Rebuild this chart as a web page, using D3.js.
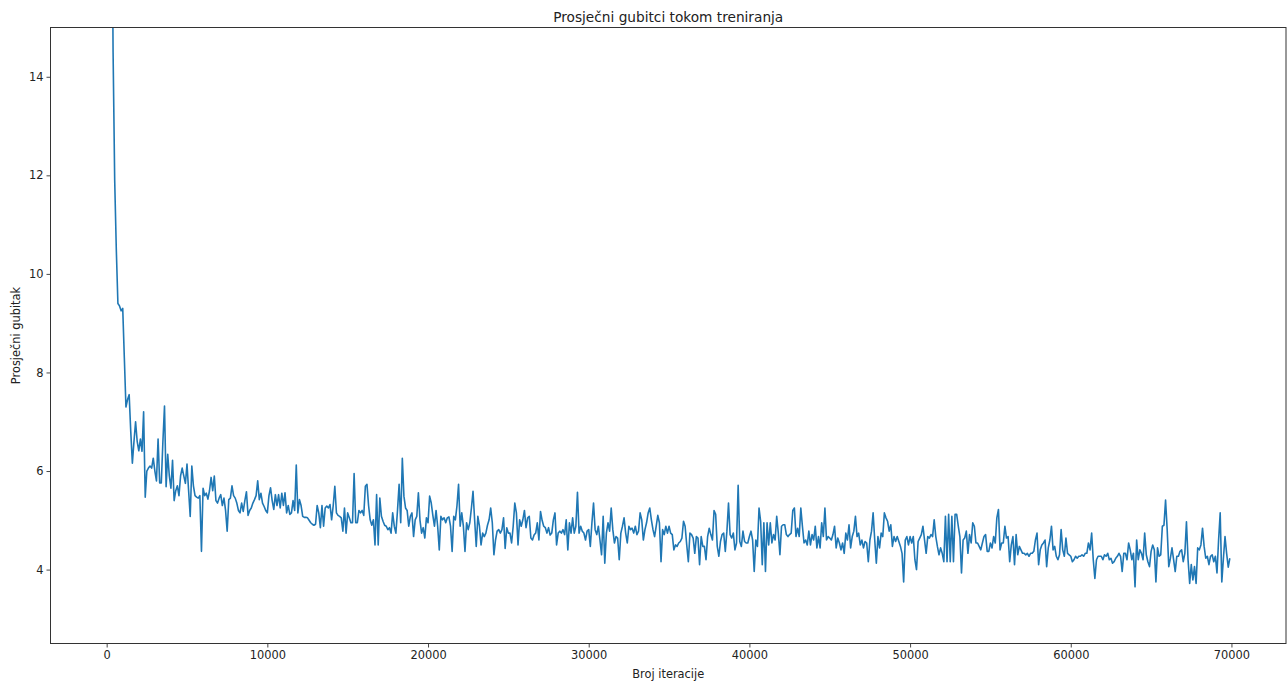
<!DOCTYPE html>
<html>
<head>
<meta charset="utf-8">
<script src="https://cdn.jsdelivr.net/npm/d3@7"></script>
<style>
    body { margin: 0; background: #fff; }
    text { font-family: "DejaVu Sans", sans-serif; fill: #222; }
</style>
</head>
<body>
<div id="chart"></div>
<script>
// Prosječni gubitak, jedna vrijednost svakih 100 iteracija (0 .. 69900)
const step = 100;
const losses = [
    80, 40, 26, 19, 14.5, 11.9, 10.5, 9.4, 9.35, 9.25,
    9.3, 8.3, 7.3, 7.45, 7.55, 6.8, 6.16, 6.6, 7.0, 6.6,
    6.41, 6.65, 6.4, 7.2, 5.47, 6.0, 6.06, 6.1, 6.06, 6.26,
    6.0, 5.8, 6.65, 5.76, 5.76, 6.6, 7.32, 5.68, 6.34, 5.9,
    5.65, 6.22, 5.4, 5.6, 5.7, 5.5, 5.9, 6.06, 5.9, 5.75,
    6.14, 5.6, 5.08, 6.1, 5.7, 5.5, 5.47, 5.45, 5.5, 4.37,
    5.65, 5.5, 5.55, 5.43, 5.6, 5.87, 5.6, 5.9, 5.4, 5.35,
    5.45, 5.52, 5.3, 5.45, 5.2, 4.78, 5.42, 5.45, 5.7, 5.5,
    5.45, 5.35, 5.2, 5.15, 5.35, 5.18, 5.4, 5.58, 5.1, 5.2,
    5.25, 5.35, 5.42, 5.5, 5.8, 5.42, 5.55, 5.35, 5.28, 5.2,
    5.15, 5.5, 5.66, 5.4, 5.22, 5.52, 5.3, 5.52, 5.25, 5.55,
    5.3, 5.56, 5.15, 5.3, 5.12, 5.15, 5.4, 5.2, 6.12, 5.15,
    5.42, 5.3, 5.08, 5.06, 5.06, 5.05, 5.0, 4.95, 4.92, 4.9,
    4.92, 5.3, 5.15, 4.85, 5.3, 4.88, 5.25, 5.29, 5.25, 5.32,
    5.01, 5.3, 5.69, 5.15, 5.1, 5.08, 5.05, 4.78, 5.25, 4.74,
    5.15, 5.05, 4.95, 4.95, 5.95, 4.95, 4.95, 5.2, 5.15, 5.2,
    5.1, 5.69, 5.73, 5.3, 5.01, 4.9, 5.01, 4.5, 5.52, 4.5,
    5.45, 5.08, 4.98, 4.9, 4.88, 4.81, 4.85, 4.74, 5.15, 4.88,
    4.74, 5.2, 5.73, 4.95, 6.26, 5.49, 5.25, 5.2, 4.88, 5.08,
    5.15, 4.67, 5.01, 5.08, 5.56, 5.0, 4.74, 4.85, 4.64, 5.05,
    4.95, 5.49, 5.35, 5.1, 4.88, 5.2, 4.88, 4.4, 5.08, 5.01,
    5.05, 4.95, 5.05, 5.07, 4.88, 4.37, 5.08, 5.01, 5.29, 5.73,
    4.88, 5.15, 4.88, 4.37, 4.95, 4.81, 4.95, 5.25, 5.59, 5.01,
    4.47, 5.08, 4.88, 4.5, 4.74, 4.67, 4.74, 4.9, 5.01, 5.25,
    4.95, 4.3, 4.6, 4.78, 4.81, 4.74, 4.81, 5.05, 4.43, 4.85,
    4.74, 4.74, 4.54, 4.88, 5.35, 5.15, 4.5, 5.01, 4.88, 5.01,
    5.2, 4.85, 5.05, 5.08, 4.64, 4.6, 4.7, 4.74, 4.95, 4.6,
    5.18, 5.0, 4.88, 4.85, 4.74, 4.85, 4.7, 4.74, 5.01, 5.15,
    4.5, 4.74, 4.78, 4.74, 4.81, 4.71, 5.01, 4.4, 4.95, 4.74,
    5.05, 4.74, 4.88, 5.57, 4.74, 4.88, 4.78, 4.74, 4.6, 4.78,
    4.81, 4.47, 4.95, 5.35, 4.81, 4.71, 4.88, 4.6, 4.3, 5.08,
    4.13, 4.74, 4.95, 4.78, 5.25, 4.81, 4.54, 4.67, 4.64, 4.2,
    4.74, 4.88, 5.05, 4.74, 4.54, 4.88, 4.81, 4.84, 4.74, 4.88,
    4.71, 4.78, 5.15, 5.01, 4.6, 4.81, 4.95, 5.15, 5.25, 5.01,
    4.81, 4.67, 4.88, 5.1, 4.95, 4.16, 4.81, 4.71, 4.88, 4.74,
    4.88, 4.74, 4.71, 4.4, 4.5, 4.47, 4.54, 4.57, 4.64, 4.98,
    4.88, 4.5, 4.16, 4.74, 4.71, 4.64, 4.33, 4.67, 4.64, 4.1,
    4.67, 4.47, 4.47, 4.2, 4.67, 4.84, 4.71, 4.6, 5.2, 5.12,
    4.47, 4.27, 4.57, 4.71, 4.74, 4.37, 4.78, 5.35, 4.71, 4.64,
    4.74, 4.4, 4.54, 5.71, 4.57, 4.47, 4.78, 4.57, 4.54, 4.54,
    4.67, 4.78, 4.6, 3.96, 4.6, 4.47, 5.25, 4.98, 4.1, 4.95,
    3.96, 4.95, 4.5, 4.95, 4.54, 4.71, 4.6, 5.08, 4.74, 4.3,
    4.88, 4.91, 4.91, 4.71, 4.67, 4.71, 4.74, 5.2, 5.25, 4.67,
    4.84, 4.67, 5.25, 4.88, 4.54, 4.6, 4.5, 4.78, 4.5, 4.71,
    4.6, 4.88, 4.44, 4.67, 4.44, 4.95, 4.67, 5.25, 4.6, 4.67,
    4.64, 4.6, 4.71, 4.88, 4.44, 4.64, 4.54, 4.4, 4.54, 4.33,
    4.74, 4.6, 4.91, 4.44, 4.67, 4.78, 5.08, 4.67, 4.74, 4.5,
    4.6, 4.44, 4.57, 4.54, 4.16, 4.6, 4.78, 5.15, 4.6, 4.13,
    4.67, 4.44, 4.74, 4.67, 5.15, 5.05, 4.98, 4.78, 4.91, 4.47,
    4.67, 4.57, 4.67, 4.57, 4.47, 4.33, 3.75, 4.6, 4.67, 4.5,
    4.67, 4.54, 4.67, 4.2, 4.0, 4.57, 4.64, 4.71, 4.88, 4.6,
    4.33, 4.67, 4.64, 4.71, 4.67, 5.01, 4.67, 4.47, 4.3, 4.44,
    4.33, 4.16, 5.08, 4.16, 5.12, 4.16, 5.08, 4.16, 5.12, 5.12,
    4.88, 4.67, 3.93, 4.6, 4.64, 4.78, 4.33, 4.71, 4.54, 4.95,
    4.88, 4.54, 4.54, 4.47, 4.4, 4.54, 4.67, 4.71, 4.37, 4.37,
    4.54, 4.44, 4.67, 4.54, 5.05, 5.22, 4.4, 4.54, 4.54, 4.88,
    4.64, 4.67, 4.16, 4.5, 4.67, 4.1, 4.71, 4.3, 4.47, 4.4,
    4.33, 4.33, 4.3, 4.33, 4.27, 4.33, 4.33, 4.37, 4.6, 4.74,
    4.1, 4.4, 4.5, 4.54, 4.6, 4.06, 4.44, 4.6, 4.88, 4.4,
    4.47, 4.27, 4.2, 4.3, 4.81, 4.4, 4.27, 4.64, 4.33, 4.3,
    4.27, 4.16, 4.2, 4.27, 4.23, 4.27, 4.27, 4.3, 4.27, 4.33,
    4.33, 4.54, 4.4, 4.74, 4.2, 3.82, 4.2, 4.27, 4.27, 4.27,
    4.2, 4.3, 4.27, 4.33, 4.2, 4.23, 4.13, 4.16, 4.23, 4.27,
    4.33, 4.27, 3.96, 4.33, 4.33, 4.2, 4.54, 4.4, 4.2, 4.33,
    3.65, 4.6, 4.2, 4.4, 4.33, 4.2, 4.74, 4.3, 4.16, 4.06,
    4.37, 4.5, 4.4, 3.75, 4.44, 4.27, 4.3, 4.88, 4.9, 5.41,
    4.81, 4.06, 4.23, 4.44, 4.2, 3.96, 4.27, 4.27, 4.37, 4.4,
    4.16, 4.33, 4.97, 4.2, 3.72, 4.1, 3.79, 4.06, 3.72, 4.44,
    4.4, 4.5, 4.84, 4.47, 4.23, 4.27, 4.1, 4.27, 4.3, 4.16,
    4.27, 3.93, 4.6, 5.15, 3.75, 4.23, 4.67, 4.33, 4.05, 4.23
];
const xTicks = [0, 10000, 20000, 30000, 40000, 50000, 60000, 70000];
const yTicks = [4, 6, 8, 10, 12, 14];
const yLimits = [2.5, 15];

const chartTitle = 'Prosječni gubitci tokom treniranja';
const xLabel = 'Broj iteracije';
const yLabel = 'Prosječni gubitak';

let width = 1287;
let height = 682;
let margin = {top: 27.5, right: 1, bottom: 38.5, left: 50.5};

initChart();

function initChart() {
    let data = losses.map(function(v, i) {
        return {iter: i * step, loss: v};
    });

    let svg = d3.select('#chart').append('svg')
        .attr('width', width)
        .attr('height', height);

    let innerW = width - margin.left - margin.right;
    let innerH = height - margin.top - margin.bottom;

    // margine kao u matplotlibu (5%)
    let xMax = d3.max(data, d => d.iter);
    let pad = xMax * 0.05;

    let x = d3.scaleLinear()
        .domain([-pad, xMax + pad])
        .range([0, innerW]);

    let y = d3.scaleLinear()
        .domain(yLimits)
        .range([innerH, 0]);

    let g = svg.append('g')
        .attr('transform', `translate(${margin.left},${margin.top})`);

    g.append('clipPath')
        .attr('id', 'clip')
        .append('rect')
        .attr('width', innerW)
        .attr('height', innerH);

    let line = d3.line()
        .x(d => x(d.iter))
        .y(d => y(d.loss));

    g.append('path')
        .datum(data)
        .attr('clip-path', 'url(#clip)')
        .attr('fill', 'none')
        .attr('stroke', '#1f77b4')
        .attr('stroke-width', 1.6)
        .attr('stroke-linejoin', 'round')
        .attr('d', line);

    // osi
    let xAxis = g.append('g')
        .attr('transform', `translate(0,${innerH})`)
        .call(d3.axisBottom(x).tickValues(xTicks).tickFormat(d3.format('d')).tickSizeInner(4).tickSizeOuter(0).tickPadding(3));

    let yAxis = g.append('g')
        .call(d3.axisLeft(y).tickValues(yTicks).tickFormat(d3.format('d')).tickSizeInner(4).tickSizeOuter(0).tickPadding(3));

    [xAxis, yAxis].forEach(function(a) {
        a.select('.domain').remove();
        a.selectAll('line').attr('stroke', '#333').attr('stroke-width', 0.9);
        a.selectAll('text').style('font-size', '11.4px').attr('fill', '#222');
    });

    // okvir
    g.append('rect')
        .attr('width', innerW)
        .attr('height', innerH)
        .attr('fill', 'none')
        .attr('stroke', '#333')
        .attr('stroke-width', 1);

    // naslovi
    svg.append('text')
        .attr('x', margin.left + innerW / 2)
        .attr('y', 22)
        .attr('text-anchor', 'middle')
        .style('font-size', '13.7px')
        .text(chartTitle);

    svg.append('text')
        .attr('x', margin.left + innerW / 2)
        .attr('y', 678)
        .attr('text-anchor', 'middle')
        .style('font-size', '11.4px')
        .text(xLabel);

    svg.append('text')
        .attr('transform', `translate(20,${margin.top + innerH / 2}) rotate(-90)`)
        .attr('text-anchor', 'middle')
        .style('font-size', '11.4px')
        .text(yLabel);
}
</script>
</body>
</html>
